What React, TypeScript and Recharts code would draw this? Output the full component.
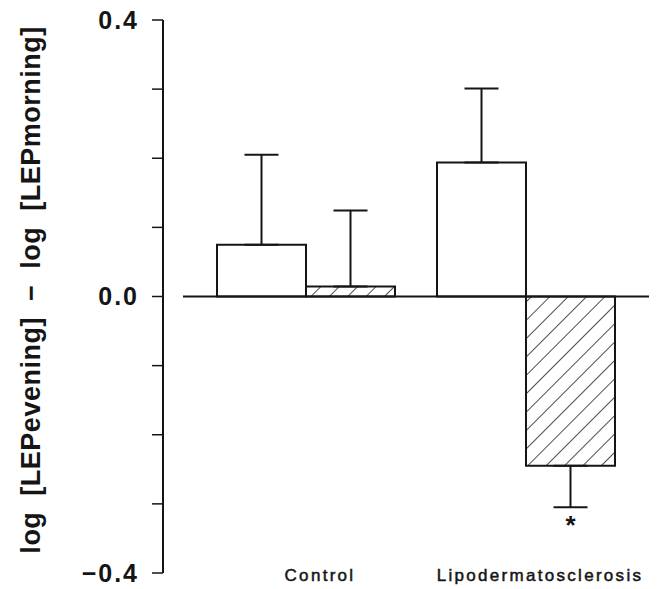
import React from "react";
import { Bar, BarChart, ErrorBar, LabelList, ReferenceLine, XAxis, YAxis } from "recharts";

const categories = ["Control", "Lipodermatosclerosis"];
const openValues = [0.075, 0.194];
const hatchedValues = [0.0145, -0.245];
const openErrors = [0.13, 0.107];
const hatchedErrors = [0.11, 0.06];
const significance = ["", "*"];
const yTicks = [-0.4, -0.3, -0.2, -0.1, 0, 0.1, 0.2, 0.3, 0.4];
const yLabelled = [-0.4, 0, 0.4];
const yTitle = "log  [LEPevening]  \u2212  log  [LEPmorning]";

// error drawn only on the outward side of each bar
const oneSided = (v: number, e: number) => (v >= 0 ? [0, e] : [e, 0]);

const data = categories.map((name, i) => ({
  name,
  open: openValues[i],
  hatched: hatchedValues[i],
  openErr: oneSided(openValues[i], openErrors[i]),
  hatchedErr: oneSided(hatchedValues[i], hatchedErrors[i]),
  sig: significance[i],
}));

const FONT = '"Liberation Sans", Arial, sans-serif';
const INK = "#151515";

const fmtY = (v: number) => {
  if (!yLabelled.some((t) => Math.abs(t - v) < 1e-9)) return "";
  if (Math.abs(v) < 1e-9) return "0.0";
  return v < 0 ? "\u2212" + Math.abs(v).toFixed(1) : v.toFixed(1);
};

const XTick = (props: any) => {
  const { x, y, payload } = props;
  return (
    <text x={x + 14} y={y - 6} textAnchor="middle" dominantBaseline="central" fontFamily={FONT} fontSize={17} letterSpacing={2.3} fill={INK} stroke={INK} strokeWidth={0.5}>
      {payload.value}
    </text>
  );
};

const Star = (props: any) => {
  const { x, y, width, height, value } = props;
  if (!value) return null;
  const bottom = Math.max(y, y + height);
  return (
    <text x={x + width / 2} y={bottom + 68} textAnchor="middle" fontFamily={FONT} fontWeight="bold" fontSize={26} fill={INK}>
      {value}
    </text>
  );
};

const ZeroLine = (props: any) => (
  <line x1={props.x1 + 20} y1={props.y1} x2={props.x2} y2={props.y2} stroke={INK} strokeWidth={2} />
);

export default function App() {
  return (
    <div style={{ position: "absolute", left: 0, top: 0, width: 663, height: 589, background: "#fff" }}>
      <BarChart width={663} height={589} data={data} margin={{ top: 20, right: 14, left: 0, bottom: 15 }} barGap={0} barCategoryGap={21}>
        <defs>
          <pattern id="hatch" patternUnits="userSpaceOnUse" width={13} height={13} patternTransform="rotate(45)">
            <rect width={13} height={13} fill="#fff" />
            <line x1={0} y1={0} x2={0} y2={13} stroke={INK} strokeWidth={1.5} />
          </pattern>
        </defs>
        <XAxis dataKey="name" axisLine={false} tickLine={false} height={1} padding={{ left: 33, right: 13 }} tick={<XTick />} interval={0} />
        <YAxis
          width={163}
          domain={[-0.4, 0.4]}
          ticks={yTicks}
          interval={0}
          tickSize={11}
          tickMargin={13}
          tickFormatter={fmtY}
          axisLine={{ stroke: INK, strokeWidth: 2 }}
          tickLine={{ stroke: INK, strokeWidth: 1.5 }}
          tick={{ fill: INK, fontSize: 25, fontFamily: FONT, fontWeight: "bold", letterSpacing: 2 }}
          label={() => (
            <text
              x={40}
              y={290}
              transform="rotate(-90 40 290)"
              textAnchor="middle"
              fontFamily={FONT}
              fontWeight="bold"
              fontSize={27}
              letterSpacing={0.5}
              fill={INK}
              xmlSpace="preserve"
            >
              {yTitle}
            </text>
          )}
        />
        <Bar dataKey="open" fill="#fff" stroke={INK} strokeWidth={2} isAnimationActive={false}>
          <ErrorBar dataKey="openErr" width={17} strokeWidth={2} stroke={INK} direction="y" />
        </Bar>
        <Bar dataKey="hatched" fill="url(#hatch)" stroke={INK} strokeWidth={2} isAnimationActive={false}>
          <ErrorBar dataKey="hatchedErr" width={17} strokeWidth={2} stroke={INK} direction="y" />
          <LabelList dataKey="sig" content={<Star />} />
        </Bar>
        <ReferenceLine y={0} shape={<ZeroLine />} />
      </BarChart>
    </div>
  );
}
